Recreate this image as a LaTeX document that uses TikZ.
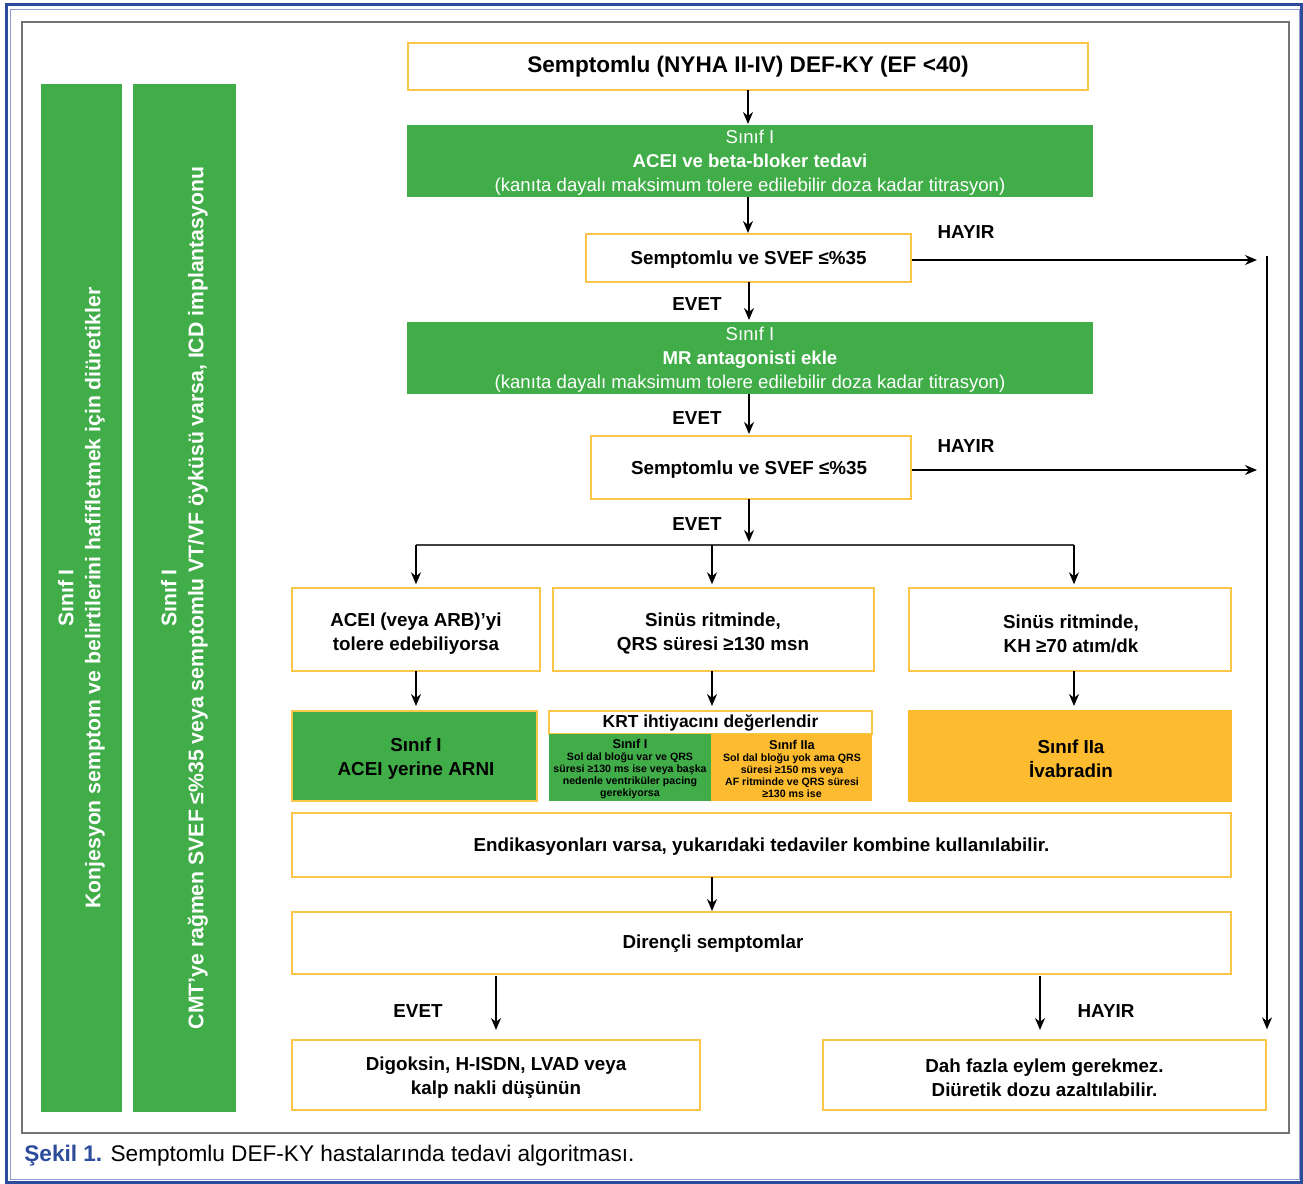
\documentclass[tikz,border=0pt]{standalone}
\usepackage{fontspec}
\setmainfont{Liberation Sans}
\usetikzlibrary{arrows.meta}

\definecolor{kgreen}{HTML}{41AD49}
\definecolor{korange}{HTML}{FDBB2F}
\definecolor{kborder}{HTML}{FBC54A}
\definecolor{kblue}{HTML}{2D4B9B}
\definecolor{klightblue}{HTML}{8E9CD2}

\tikzset{
  box/.style={draw=kborder, line width=0.7pt, fill=white, align=center, inner sep=0pt,
    font=\bfseries\fontsize{9.4}{12}\selectfont},
  greenbox/.style={fill=kgreen, text=white, align=center, inner sep=0pt,
    font=\fontsize{9.3}{12}\selectfont},
  sidebar/.style={fill=kgreen, inner sep=0pt},
  sidetext/.style={rotate=90, text=white, align=center,
    font=\bfseries\fontsize{10.6}{13.5}\selectfont},
  smalltext/.style={align=center, font=\bfseries\fontsize{5.3}{6}\selectfont},
  arr/.style={-{Stealth[length=6pt, width=5pt]}, line width=0.7pt},
  lbl/.style={font=\bfseries\fontsize{9.4}{10}\selectfont}
}

\begin{document}
\begin{tikzpicture}[x=0.5pt, y=-0.5pt]
\useasboundingbox (0,0) rectangle (1303,1184);

% frames
\draw[kblue, line width=1.5pt] (6.5,4.5) rectangle (1301.5,1182.5);
\draw[klightblue, line width=0.5pt] (10,9) rectangle (1299,1179);
\draw[black!55, line width=0.7pt] (22,22) rectangle (1289,1133);

% side bars
\node[sidebar, minimum width=40.5pt, minimum height=514pt] (bar1) at (81.5,598) {};
\node[sidebar, minimum width=51.5pt, minimum height=514pt] (bar2) at (184.5,598) {};
\node[sidetext] at (bar1) {Sınıf I\\Konjesyon semptom ve belirtilerini hafifletmek için diüretikler};
\node[sidetext] at (bar2) {Sınıf I\\CMT’ye rağmen SVEF ≤\%35 veya semptomlu VT/VF öyküsü varsa, ICD implantasyonu};

% main column
\node[box, minimum width=340pt, minimum height=23.5pt, font=\bfseries\fontsize{11.3}{12}\selectfont]
  (start) at (748,66.5) {Semptomlu (NYHA II-IV) DEF-KY (EF <40)};
\node[greenbox, minimum width=343pt, minimum height=36pt] (acei) at (750,161) {};
\node[greenbox] at (750,163)
  {Sınıf I\\{\bfseries ACEI ve beta-bloker tedavi}\\(kanıta dayalı maksimum tolere edilebilir doza kadar titrasyon)};
\node[box, minimum width=162.5pt, minimum height=24pt] (dec1) at (748.5,258) {};
\node[box, draw=none, fill=none] at (748.5,260) {Semptomlu ve SVEF ≤\%35};
\node[greenbox, minimum width=343pt, minimum height=36pt] (mra) at (750,358) {};
\node[greenbox] at (750,360)
  {Sınıf I\\{\bfseries MR antagonisti ekle}\\(kanıta dayalı maksimum tolere edilebilir doza kadar titrasyon)};
\node[box, minimum width=160pt, minimum height=31.5pt] (dec2) at (751,467.5) {};
\node[box, draw=none, fill=none] at (749,470) {Semptomlu ve SVEF ≤\%35};

% three branches
\node[box, minimum width=124pt, minimum height=41.5pt] (arb) at (416,629.5) {};
\node[box, draw=none, fill=none] at (416,634) {ACEI (veya ARB)’yi\\tolere edebiliyorsa};
\node[box, minimum width=160.5pt, minimum height=41.5pt] (qrs) at (713.5,629.5) {};
\node[box, draw=none, fill=none] at (713,634) {Sinüs ritminde,\\QRS süresi ≥130 msn};
\node[box, minimum width=161pt, minimum height=41.5pt] (kh) at (1070,629.5) {};
\node[box, draw=none, fill=none] at (1071,634) {Sinüs ritminde,\\KH ≥70 atım/dk};

\node[box, fill=kgreen, minimum width=122.5pt, minimum height=45pt] (arni) at (414.5,756) {};
\node[box, draw=none, fill=none] at (416,759) {Sınıf I\\ACEI yerine ARNI};
\node[box, minimum width=161.5pt, minimum height=11.5pt, font=\bfseries\fontsize{8.7}{9}\selectfont]
  (krt) at (710.5,722.5) {KRT ihtiyacını değerlendir};
\node[fill=kgreen, minimum width=81pt, minimum height=33.5pt, inner sep=0pt] (krtl) at (630,767.5) {};
\node[fill=korange, minimum width=80.5pt, minimum height=33.5pt, inner sep=0pt] (krtr) at (791.5,767.5) {};
\node[smalltext] at (630,768.5) {{\fontsize{6.4}{6}\selectfont Sınıf I}\\Sol dal bloğu var ve QRS\\süresi ≥130 ms ise veya başka\\nedenle ventriküler pacing\\gerekiyorsa};
\node[smalltext] at (792,768.5) {{\fontsize{6.4}{6}\selectfont Sınıf IIa}\\Sol dal bloğu yok ama QRS\\süresi ≥150 ms veya\\AF ritminde ve QRS süresi\\≥130 ms ise};
\node[box, draw=korange, fill=korange, minimum width=161pt, minimum height=45pt] (ivab) at (1070,756) {};
\node[box, draw=none, fill=none] at (1071,759) {Sınıf IIa\\İvabradin};

\node[box, minimum width=469.5pt, minimum height=32pt] (comb) at (761.5,845) {};
\node[box, draw=none, fill=none] at (761.5,847)
  {Endikasyonları varsa, yukarıdaki tedaviler kombine kullanılabilir.};
\node[box, minimum width=469.5pt, minimum height=31pt] (refr) at (761.5,943) {};
\node[box, draw=none, fill=none] at (713,944) {Dirençli semptomlar};
\node[box, minimum width=204pt, minimum height=35pt] (digo) at (496,1075) {};
\node[box, draw=none, fill=none] at (496,1078) {Digoksin, H-ISDN, LVAD veya\\kalp nakli düşünün};
\node[box, minimum width=221.5pt, minimum height=35pt] (noact) at (1044.5,1075) {};
\node[box, draw=none, fill=none] at (1044.5,1078) {Dah fazla eylem gerekmez.\\Diüretik dozu azaltılabilir.};

% labels
\node[lbl] at (966,232) {HAYIR};
\node[lbl] at (697,304) {EVET};
\node[lbl] at (697,418) {EVET};
\node[lbl] at (966,446) {HAYIR};
\node[lbl] at (697,524) {EVET};
\node[lbl] at (418,1011) {EVET};
\node[lbl] at (1106,1011) {HAYIR};

% connectors
\coordinate (hay1) at (1257,260);
\coordinate (hay2) at (1257,470);
\coordinate (rtop) at (1267,256);
\coordinate (split) at (749,542);
\coordinate (sl) at (416,545);
\coordinate (sr) at (1074,545);
\coordinate (sm) at (712,545);

\draw[arr] (748,90) -- (748,124);
\draw[arr] (748,197) -- (748,233);
\draw[arr] (749,282) -- (749,320);
\draw[arr] (749,394) -- (749,434);
\draw[arr] (dec1.east |- hay1) -- (hay1);
\draw[arr] (dec2.east |- hay2) -- (hay2);
\draw[arr] (rtop) -- ([yshift=5pt]rtop |- noact.north);
\draw[arr] (749,499) -- (split);
\draw[line width=0.7pt, black!75] (sl) -- (sr);
\draw[arr] (sl) -- ([yshift=1.5pt]sl |- arb.north);
\draw[arr] (sm) -- ([yshift=1.5pt]sm |- qrs.north);
\draw[arr] (sr) -- ([yshift=1.5pt]sr |- kh.north);
\draw[arr] (416,671) -- (416,706);
\draw[arr] (712,671) -- (712,706);
\draw[arr] (1074,671) -- (1074,706);
\draw[arr] (712,877) -- (712,911);
\draw[arr] (496,976) -- (496,1030);
\draw[arr] (1040,976) -- (1040,1030);

% caption
\node[anchor=base west, inner sep=0pt, font=\fontsize{11.3}{12}\selectfont] (cap) at (24,1161)
  {\textcolor{kblue}{\bfseries Şekil 1.} Semptomlu DEF-KY hastalarında tedavi algoritması.};
\end{tikzpicture}
\end{document}
